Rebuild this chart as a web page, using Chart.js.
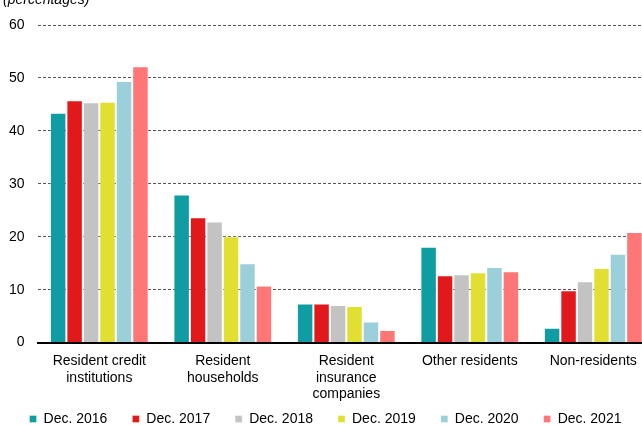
<!DOCTYPE html>
<html>
<head>
<meta charset="utf-8">
<script src="https://cdn.jsdelivr.net/npm/chart.js@4.4.1/dist/chart.umd.min.js"></script>
<style>
    html, body { margin: 0 ; padding: 0 ; background: #ffffff ; overflow: hidden ; }
    #wrap { position: relative ; width: 660px ; height: 426px ; }
</style>
</head>
<body>
<div id="wrap"><canvas id="holdersChartCanvas"></canvas></div>
<script>
    // ---------------- Chart data ---------------------------------------------
    var categories = [
        [ 'Resident credit', 'institutions' ],
        [ 'Resident', 'households' ],
        [ 'Resident', 'insurance', 'companies' ],
        'Other residents',
        'Non-residents'
    ] ;

    var seriesNames = [ 'Dec. 2016', 'Dec. 2017', 'Dec. 2018',
                        'Dec. 2019', 'Dec. 2020', 'Dec. 2021' ] ;

    var dec2016 = [ 43.4, 28.0, 7.4, 18.1,  2.8 ] ;
    var dec2017 = [ 45.8, 23.7, 7.4, 12.7,  9.9 ] ;
    var dec2018 = [ 45.4, 22.9, 7.1, 12.9, 11.6 ] ;
    var dec2019 = [ 45.5, 20.1, 6.9, 13.3, 14.1 ] ;
    var dec2020 = [ 49.4, 15.0, 4.0, 14.3, 16.8 ] ;
    var dec2021 = [ 52.2, 10.8, 2.4, 13.5, 20.9 ] ;

    var yTicks = [ 0, 10, 20, 30, 40, 50, 60 ] ;

    var seriesData   = [ dec2016, dec2017, dec2018, dec2019, dec2020, dec2021 ] ;
    var seriesColors = [ '#109ca3', '#e2191b', '#c3c3c3',
                         '#e1e032', '#9bcfda', '#ff7676' ] ;

    var FONT = 'Arial, "Liberation Sans", sans-serif' ;
    var LEGEND_PAD = 25 ;

    // ---------------- Local functions ----------------------------------------
    function getDatasets() {
        var datasets = [] ;
        for( var i=0; i<seriesNames.length; i++ ) {
            datasets.push( {
                label           : seriesNames[i],
                data            : seriesData[i],
                backgroundColor : seriesColors[i],
                borderColor     : 'rgba(255,255,255,0.35)',
                borderWidth     : 1,
                categoryPercentage : 0.8,
                barPercentage   : 1.0
            } ) ;
        }
        return datasets ;
    }

    // draws the "(percentages)" caption that sits above the plot
    var captionPlugin = {
        id : 'caption',
        afterDraw : function( chart ) {
            var ctx = chart.ctx ;
            ctx.save() ;
            ctx.font = 'italic 14px ' + FONT ;
            ctx.fillStyle = '#000000' ;
            ctx.textBaseline = 'alphabetic' ;
            ctx.fillText( '(percentages)', 3, 4 ) ;
            ctx.restore() ;
        }
    } ;

    // the source legend sits tight under the 3-line category label,
    // so pull the legend box up after layout (wide item spacing kept)
    var legendShiftPlugin = {
        id : 'legendShift',
        afterLayout : function( chart ) {
            var legend = chart.legend ;
            if( legend == null ) { return ; }
            var dy = ( 417 - LEGEND_PAD - 5 ) - legend.top ;
            legend.top    += dy ;
            legend.bottom += dy ;
        }
    } ;

    function getScaleOptions() {
        return {
            x : {
                grid   : { display: false },
                border : { display: true, color: '#000000', width: 2 },
                ticks  : {
                    color   : '#000000',
                    padding : 2,
                    maxRotation : 0,
                    autoSkip : false,
                    font    : { family: FONT, size: 14, lineHeight: 1.2 }
                }
            },
            y : {
                min : 0,
                max : 60,
                afterBuildTicks : function( axis ) {
                    axis.ticks = yTicks.map( function( v ) { return { value: v } ; } ) ;
                },
                grid : {
                    color      : '#555555',
                    lineWidth  : 1,
                    drawTicks  : false
                },
                border : { display: false, dash: [ 3, 2 ] },
                ticks : {
                    color   : '#000000',
                    padding : 13,
                    font    : { family: FONT, size: 14 }
                }
            }
        } ;
    }

    function drawChart() {
        var canvas = document.getElementById( 'holdersChartCanvas' ) ;
        new Chart( canvas, {
            type : 'bar',
            data : {
                labels   : categories,
                datasets : getDatasets()
            },
            options : {
                responsive : true,
                maintainAspectRatio : false,
                animation : false,
                layout : { padding: { top: 25, right: 5, left: -4, bottom: -28 } },
                plugins : {
                    legend : {
                        position : 'bottom',
                        labels : {
                            boxWidth  : 7,
                            boxHeight : 7,
                            padding   : LEGEND_PAD,
                            color     : '#000000',
                            font      : { family: FONT, size: 14 }
                        }
                    },
                    tooltip : { enabled: false }
                },
                scales : getScaleOptions()
            },
            plugins : [ captionPlugin, legendShiftPlugin ]
        } ) ;
    }

    drawChart() ;
</script>
</body>
</html>
